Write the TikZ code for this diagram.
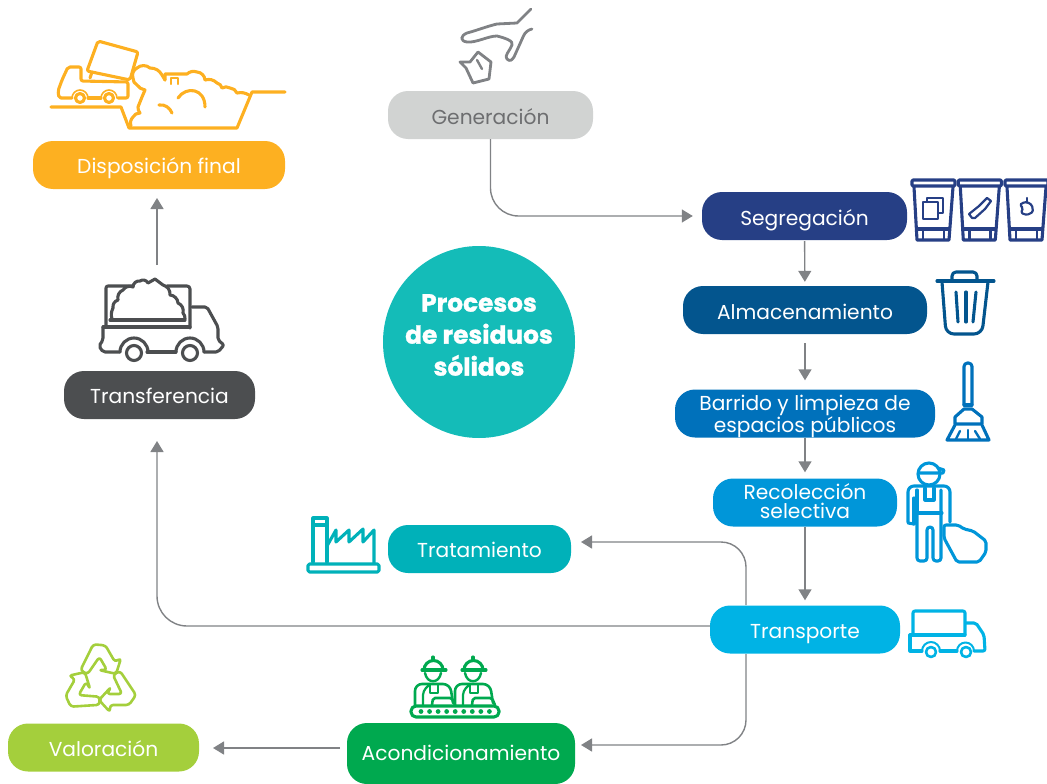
\documentclass[tikz,border=0pt]{standalone}
\usepackage{fontspec}
\setmainfont{Poppins}[BoldFeatures={FakeBold=1.3}]
\usetikzlibrary{arrows.meta}

\definecolor{gencol}{HTML}{D1D3D2}
\definecolor{gentext}{HTML}{6D6E70}
\definecolor{segcol}{HTML}{263F85}
\definecolor{almcol}{HTML}{03558E}
\definecolor{barcol}{HTML}{0071BB}
\definecolor{reccol}{HTML}{0096D9}
\definecolor{porcol}{HTML}{00B3E5}
\definecolor{tracol}{HTML}{00B1B9}
\definecolor{acocol}{HTML}{00A94F}
\definecolor{valcol}{HTML}{A4CF3C}
\definecolor{fercol}{HTML}{4C4E50}
\definecolor{discol}{HTML}{FDB021}
\definecolor{circol}{HTML}{14BCB8}
\definecolor{arrcol}{HTML}{808285}

\tikzset{
  procbox/.style={shape=rectangle,rounded corners=20pt,minimum height=48pt,inner sep=0pt,
    text=white,align=center,font=\fontsize{20.2}{21}\selectfont},
  proctext/.style={text=white,align=center,inner sep=0pt},
  oneline/.style={text height=17pt,text depth=0pt},
  flow/.style={->,draw=arrcol,line width=1.4pt,shorten >=9pt},
  icon/.style={line width=3.1pt,line join=round,line cap=round,fill=none},
  recbin/.pic={
    \draw[icon,rounded corners=1pt] (912,180) rectangle (955,186);
    \draw[icon] (914,187) -- (917,240) -- (949,240) -- (953,187);
    \draw[icon] (917,229) -- (949,229);
    \draw[icon,line width=2.4pt] (923,229) -- (923,240);
    \draw[icon,line width=2.4pt] (944,229) -- (944,240);
  },
  crewman/.pic={
    \draw[icon] (422,670) -- (446,670);
    \draw[icon] (424,670) arc[start angle=180,end angle=360,radius=9.5];
    \draw[icon] (433,657) -- (433,660);
    \draw[icon,line width=2.4pt] (425,673) .. controls (427,684) and (439,684) .. (441,673);
    \draw[icon,line width=2.6pt,rounded corners=7pt] (415,706) -- (415,684) -- (450,684) -- (453,703);
    \draw[icon,line width=2.2pt,rounded corners=4pt] (423,706) -- (423,691) -- (428,686);
    \draw[icon,line width=2.2pt] (430,685) -- (430,693) -- (438,693) -- (438,685);
    \draw[icon,line width=2.6pt,rounded corners=2pt] (432,705) -- (433,698) -- (452,698) -- (455,705);
  }
}

\begin{document}
\begin{tikzpicture}[x=1pt,y=-1pt,>={Triangle[length=11pt,width=13pt]}]
  \useasboundingbox (0,0) rectangle (1047,784);

  \node[procbox,oneline,text height=19pt,fill=gencol,text=gentext,minimum width=205pt] (gen) at (490.5,115) {Generación};
  \node[procbox,oneline,text height=19pt,fill=segcol,minimum width=205pt] (seg) at (804.5,216) {Segregación};
  \node[procbox,oneline,text height=19pt,fill=almcol,minimum width=244pt] (alm) at (805,310) {Almacenamiento};
  \node[procbox,fill=barcol,minimum width=260pt] (bar) at (805,413.5) {};
  \node[proctext,font=\fontsize{20.2}{21}\selectfont] (bartext) at (805,416.5) {Barrido y limpieza de\\espacios públicos};
  \node[procbox,fill=reccol,minimum width=184pt] (rec) at (805,502.5) {};
  \node[proctext,font=\fontsize{20.2}{19}\selectfont] (rectext) at (805,501) {Recolección\\selectiva};
  \node[procbox,oneline,fill=porcol,minimum width=190pt] (por) at (805,629.5) {Transporte};
  \node[procbox,oneline,fill=tracol,minimum width=183pt] (tra) at (479.5,549) {Tratamiento};
  \node[procbox,oneline,text height=14pt,fill=acocol,minimum width=228pt,minimum height=61pt] (aco) at (461,753.5) {Acondicionamiento};
  \node[procbox,oneline,fill=valcol,minimum width=191pt] (val) at (103.5,747.5) {Valoración};
  \node[procbox,oneline,fill=fercol,minimum width=191pt] (fer) at (159.5,395) {Transferencia};
  \node[procbox,oneline,fill=discol,minimum width=252pt] (dis) at (159,165) {Disposición final};

  \node[shape=circle,fill=circol,minimum size=192pt,inner sep=0pt] (cir) at (479,342) {};
  \node[proctext,font=\fontsize{24.8}{32}\selectfont\bfseries] (cen) at (479,335) {Procesos\\de residuos\\sólidos};

  \coordinate (porup) at (746,605);
  \coordinate (pordown) at (746,654);
  \coordinate (porwest) at (710,626);
  \coordinate (train) at (571,542);
  \coordinate (acoin) at (575,745);
  \coordinate (ferin) at (157,419);
  \coordinate (ferout) at (157,371);
  \coordinate (disin) at (157,189);
  \coordinate (acoout) at (347,748);
  \coordinate (valin) at (199,748);

  \draw[flow,rounded corners=28pt] (gen.south) |- (seg.west);
  \draw[flow,shorten <=1pt,shorten >=4pt] (seg) -- (alm);
  \draw[flow,shorten <=9pt] (alm) -- (bar);
  \draw[flow,shorten >=6pt] (bar) -- (rec);
  \draw[flow,shorten >=5pt] (rec) -- (por);
  \draw[flow,rounded corners=25pt,shorten >=10pt] (porup) |- (train);
  \draw[flow,rounded corners=25pt,shorten >=6pt] (pordown) |- (acoin);
  \draw[flow,rounded corners=30pt,shorten >=22pt] (porwest) -| (ferin);
  \draw[flow,shorten <=106pt] (ferout) -- (disin);
  \draw[flow,shorten <=7pt,shorten >=14pt] (acoout) -- (valin);

  % generacion
  \begin{scope}[draw=arrcol]
    \draw[icon,line width=2.8pt] (531,9) -- (517,23) -- (497,24) .. controls (488,26) and (475,31) .. (467,33)
      .. controls (460,36) and (460,41) .. (467,42) .. controls (476,43) and (488,36) .. (497,36)
      .. controls (505,38) and (514,41) .. (512,45) .. controls (509,52) and (504,56) .. (507,59)
      .. controls (510,62) and (512,60) .. (514,57) -- (523,37) .. controls (525,32) and (528,30) .. (532,29);
    \draw[icon,line width=2.8pt] (460,62) -- (470,62) -- (478,52) -- (491,62) -- (489,79) -- (473,83) -- (466,68) -- cycle;
    \draw[icon,line width=2.4pt] (477,60) -- (482,69);
  \end{scope}

  % segregacion
  \begin{scope}[draw=segcol,color=segcol]
    \pic[draw=segcol] at (0,0) {recbin};
    \pic[draw=segcol] at (46.3,0) {recbin};
    \pic[draw=segcol] at (93,0) {recbin};
    \draw[icon,line width=2.2pt] (923,202) rectangle (938,219);
    \draw[icon,line width=2.2pt] (927,202) -- (927,198) -- (943,198) -- (943,213) -- (938,213);
    \draw[icon,line width=2.2pt] (969,214) -- (979,206) -- (987,198) -- (991,201) -- (985,209) -- (975,218) -- (972,218) -- cycle;
    \draw[icon,line width=2.2pt,rounded corners=1.5pt] (1022,203) -- (1027,202) -- (1032,205) -- (1033,212) -- (1027,215) -- (1021,213) -- (1023,208) -- (1020,205) -- cycle;
    \draw[icon,line width=2.2pt] (1027,198) -- (1027,202);
  \end{scope}

  % almacenamiento
  \begin{scope}[draw=almcol]
    \draw[icon] (937,281) -- (994,281);
    \draw[icon,rounded corners=4pt] (952,281) -- (952,272) -- (977,272) -- (977,281);
    \draw[icon,rounded corners=8pt] (942,282) -- (946,334) -- (982,334) -- (988,282);
    \draw[icon] (956,292) -- (958,322);
    \draw[icon] (966,292) -- (966,322);
    \draw[icon] (976,292) -- (973,322);
  \end{scope}

  % barrido
  \begin{scope}[draw=barcol]
    \draw[icon,rounded corners=3.5pt] (964,405) -- (964,363) -- (972,363) -- (972,405);
    \draw[icon] (964,405) -- (972,405);
    \draw[icon] (955,424) -- (955,417) -- (964,409) -- (972,409) -- (982,417) -- (982,424) -- cycle;
    \draw[icon] (955,425) -- (947,440) -- (989,440) -- (982,425);
    \draw[icon,line width=2.4pt] (960,431) -- (956,439);
    \draw[icon,line width=2.4pt] (968,430) -- (968,439);
    \draw[icon,line width=2.4pt] (975,431) -- (980,439);
  \end{scope}

  % recoleccion
  \begin{scope}[draw=reccol]
    \draw[icon] (929,474) circle[radius=11];
    \draw[icon] (919,473) -- (943,473) -- (944,470) -- (938,468);
    \draw[icon,rounded corners=6pt] (908,522) -- (908,486) -- (950,486) -- (950,522);
    \draw[icon] (908,523) -- (914,524);
    \draw[icon] (914,524) -- (914,498);
    \draw[icon] (917,490) -- (917,513) -- (942,513);
    \draw[icon,rounded corners=3pt] (917,513) -- (917,561) -- (927,561) -- (927,527) -- (933,527) -- (933,561) -- (941,561) -- (941,490);
    \draw[icon] (925,488) -- (925,500) -- (934,500) -- (934,488);
    \draw[icon,rounded corners=2pt] (944,525) -- (958,525) -- (964,529) -- (973,531) -- (986,541) -- (986,552) -- (979,562) -- (957,562) -- (944,538) -- cycle;
  \end{scope}

  % transporte
  \begin{scope}[draw=porcol]
    \draw[icon,rounded corners=2pt] (913,635) -- (913,611) -- (965,611) -- (965,635);
    \draw[icon] (910,635) -- (965,635);
    \draw[icon,rounded corners=2pt] (966,623) -- (976,623) -- (984,635) -- (985,651) -- (974,651);
    \draw[icon] (910,635) -- (910,651) -- (922,651);
    \draw[icon] (940,651) -- (957,651);
    \draw[icon,line width=2pt] (922,651) arc[start angle=180,end angle=360,radius=9];
    \draw[icon,line width=2pt] (957,651) arc[start angle=180,end angle=360,radius=8.5];
    \draw[icon,line width=2.6pt] (931,652) circle[radius=5];
    \draw[icon,line width=2.6pt] (966,652) circle[radius=5];
  \end{scope}

  % tratamiento
  \begin{scope}[draw=tracol]
    \draw[icon] (313,562) -- (313,518) -- (327,518) -- (327,562);
    \draw[icon] (313,525) -- (327,525);
    \draw[icon,rounded corners=1.5pt] (308,572) rectangle (379,564);
    \draw[icon] (327,546) -- (336,530) -- (336,542) -- (349,530) -- (349,542) -- (363,529) -- (363,542) -- (374,530) -- (374,563);
  \end{scope}

  % acondicionamiento
  \begin{scope}[draw=acocol]
    \pic[draw=acocol] at (0,0) {crewman};
    \pic[draw=acocol] at (40,0) {crewman};
    \draw[icon,rounded corners=5pt] (411,706) rectangle (499,717);
    \foreach \i in {0,...,8} {
      \fill[acocol] (421+\i*8.55,711.5) circle[radius=2.4];
    }
  \end{scope}

  % valoracion
  \foreach \a in {0,120,240} {
    \begin{scope}[rotate around={\a:(100,682)}]
      \draw[icon,draw=valcol,rounded corners=3pt,line width=2.6pt] (113,675) -- (122,694) -- (107,694) -- (111,687)
        -- (99,700) -- (110,712) -- (110,705) -- (129,705) -- (136,695) -- (120,671) -- cycle;
    \end{scope}
  }

  % transferencia
  \begin{scope}[draw=fercol]
    \draw[icon,rounded corners=2pt] (133,286) -- (106,286) -- (106,327);
    \draw[icon,rounded corners=3pt] (167,286) -- (190,286) -- (190,328);
    \draw[icon] (103,327) -- (190,327);
    \draw[icon] (110,320) -- (185,320);
    \draw[icon] (112,319) to[bend left=20] (113,308) to[bend left=40] (118,300) to[bend left=40] (123,290)
      to[bend left=40] (133,287) to[bend left=50] (140,281) to[bend left=50] (148,283) -- (155,279) -- (163,285)
      to[bend left=40] (170,295) to[bend left=40] (178,303) to[bend left=40] (183,313) to[bend left=20] (185,319);
    \draw[icon,rounded corners=2pt] (192,307) -- (207,307) -- (218,327) -- (218,340) -- (224,345) -- (218,352) -- (204,352);
    \draw[icon,rounded corners=2pt] (103,327) -- (103,340) -- (99,346) -- (103,352) -- (120,352);
    \draw[icon] (147,352) -- (176,352);
    \draw[icon] (120,352) arc[start angle=180,end angle=360,radius=14];
    \draw[icon] (176,352) arc[start angle=180,end angle=360,radius=14];
    \draw[icon] (134,353) circle[radius=7.5];
    \draw[icon] (190,353) circle[radius=7.5];
  \end{scope}

  % disposicion
  \begin{scope}[draw=discol]
    \draw[icon,rounded corners=2pt] (98,41) -- (138,52) -- (130,80) -- (87,71) -- cycle;
    \draw[icon] (51,107) -- (121,107) -- (129,128) -- (237,128) -- (252,92) -- (285,92);
    \draw[icon,rounded corners=2pt] (72,98) -- (59,98) -- (58,91) -- (62,80) -- (68,67) -- (81,67) -- (81,81) -- (128,82) -- (128,98) -- (118,98);
    \draw[icon] (90,78) -- (92,72);
    \draw[icon] (88,98) -- (101,98);
    \draw[icon] (80,98) circle[radius=4.5];
    \draw[icon] (109,98) circle[radius=4.5];
    \draw[icon,line width=1.6pt] (72,98) arc[start angle=180,end angle=360,radius=8];
    \draw[icon,line width=1.6pt] (101,98) arc[start angle=180,end angle=360,radius=8];
    \draw[icon] (131,126) to[bend left=30] (133,117) to[bend left=30] (140,113) to[bend left=20] (138,107) -- (142,97) -- (145,90)
      to[bend left=20] (137,85) to[bend left=30] (133,78) to[bend left=40] (137,68) to[bend left=40] (150,68) to[bend left=30] (162,75) -- (165,80);
    \draw[icon] (165,80) -- (165,74) -- (187,74) to[bend left=30] (197,72) to[bend left=40] (205,80) to[bend left=30] (217,83)
      to[bend left=30] (222,88) to[bend left=30] (230,88) to[bend left=30] (237,93) to[bend left=20] (249,95);
    \draw[icon,line width=2.4pt] (171,84) -- (171,78) -- (178,78) -- (178,84);
    \draw[icon] (178,98) .. controls (186,86) and (205,88) .. (205,107);
    \draw[icon] (159,105) .. controls (165,104) and (170,108) .. (172,113);
  \end{scope}
\end{tikzpicture}
\end{document}
